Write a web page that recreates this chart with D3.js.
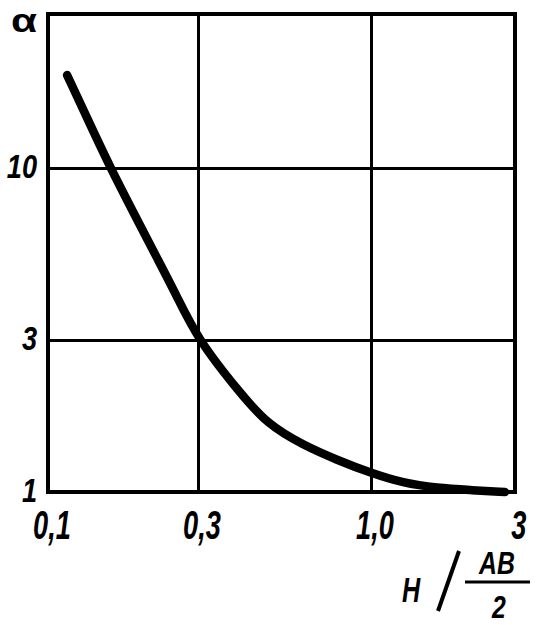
<!DOCTYPE html>
<html><head><meta charset="utf-8">
<script src="https://cdn.jsdelivr.net/npm/d3@7"></script>
<style>
body{margin:0;background:#fff;}
svg{display:block;}
.lbl{font-family:"Liberation Sans","Arial",sans-serif;font-weight:bold;font-style:italic;fill:#000;}
.alpha{font-family:"Liberation Sans","Arial",sans-serif;font-weight:bold;font-style:normal;fill:#000;}
</style></head>
<body>
<svg id="chart" width="539" height="625"></svg>
<script>
// Data
const xTickValues = [0.1, 0.3, 1, 3];
const xTickLabels = ["0,1", "0,3", "1,0", "3"];
const yTickValues = [1, 3, 10];
const yTickLabels = ["1", "3", "10"];
const curveX = [0.115, 0.134, 0.158, 0.188, 0.224, 0.254, 0.3, 0.402, 0.485, 0.623, 0.79, 1.0, 1.276, 1.655, 2.13, 2.78];
const curveY = [19.4, 14.1, 10.0, 7.25, 5.25, 4.17, 3.0, 2.046, 1.635, 1.404, 1.26, 1.147, 1.067, 1.029, 1.014, 1.0];

const svg = d3.select("#chart");
const L = 48, R = 515, T = 14, B = 492;

// piecewise log scales matching the hand-drawn grid spacing
const x = d3.scaleLog().domain([0.1, 0.3, 1, 3]).range([L, 198, 371, R]);
const y = d3.scaleLog().domain([1, 3, 10, 30]).range([B, 340, 168, T]);

// grid via axes
const gx = svg.append("g").attr("transform", `translate(0,${B})`)
  .call(d3.axisBottom(x).tickValues(xTickValues).tickSize(-(B - T)).tickPadding(19)
    .tickFormat((d, i) => xTickLabels[i]));
gx.select(".domain").remove();
gx.selectAll("line").attr("stroke", "#000").attr("stroke-width", 3);
gx.selectAll("text").attr("class", "lbl").attr("font-size", 40).attr("dy", "0.7em")
  .attr("dx", 5).attr("transform", "scale(0.68,1)");

const gy = svg.append("g").attr("transform", `translate(${L},0)`)
  .call(d3.axisLeft(y).tickValues(yTickValues).tickSize(-(R - L)).tickPadding(11)
    .tickFormat((d, i) => yTickLabels[i]));
gy.select(".domain").remove();
gy.selectAll("line").attr("stroke", "#000").attr("stroke-width", 3);
gy.selectAll("text").attr("class", "lbl").attr("font-size", 34).attr("dy", "0.28em")
  .attr("x", -11 / 0.8).attr("transform", "scale(0.8,1)");

// frame
svg.append("rect").attr("x", L).attr("y", T).attr("width", R - L).attr("height", B - T)
  .attr("fill", "none").attr("stroke", "#000").attr("stroke-width", 4);

// curve
const pts = curveX.map((v, i) => [v, curveY[i]]);
svg.append("path").datum(pts)
  .attr("d", d3.line().x(d => x(d[0])).y(d => y(d[1])).curve(d3.curveBasis))
  .attr("fill", "none").attr("stroke", "#000").attr("stroke-width", 8.5)
  .attr("stroke-linecap", "round").attr("stroke-linejoin", "round");

// y-axis title alpha
svg.append("text").attr("class", "alpha").attr("x", 24).attr("y", 32)
  .attr("text-anchor", "middle").attr("font-size", 34)
  .attr("transform", "translate(24,0) scale(1.25,1) translate(-24,0)").text("α");

// x-axis title: H / (AB / 2)
svg.append("text").attr("class", "lbl").attr("x", 411).attr("y", 602)
  .attr("text-anchor", "middle").attr("font-size", 36)
  .attr("transform", "translate(411,0) scale(0.7,1) translate(-411,0)").text("Н");
svg.append("line").attr("x1", 438).attr("y1", 611).attr("x2", 459).attr("y2", 551)
  .attr("stroke", "#000").attr("stroke-width", 4);
svg.append("text").attr("class", "lbl").attr("x", 497).attr("y", 574)
  .attr("text-anchor", "middle").attr("font-size", 31)
  .attr("transform", "translate(497,0) scale(0.8,1) translate(-497,0)").text("АВ");
svg.append("line").attr("x1", 465).attr("y1", 582).attr("x2", 530).attr("y2", 582)
  .attr("stroke", "#000").attr("stroke-width", 3);
svg.append("text").attr("class", "lbl").attr("x", 499).attr("y", 618)
  .attr("text-anchor", "middle").attr("font-size", 31)
  .attr("transform", "translate(499,0) scale(0.8,1) translate(-499,0)").text("2");
</script>
</body></html>
